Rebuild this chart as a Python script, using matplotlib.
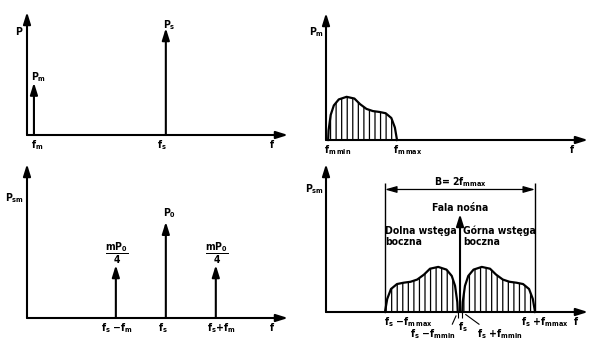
import matplotlib.pyplot as plt
import numpy as np

plt.rcParams['font.family'] = 'DejaVu Sans'
plt.rcParams['font.stretch'] = 'condensed'
plt.rcParams['font.weight'] = 'bold'
plt.rcParams['mathtext.default'] = 'regular'
plt.rcParams['hatch.linewidth'] = 0.9

# --- data (schematic units) ---
# top-left: modulating tone and carrier, separate
f_m, f_s = 0.5, 10.0
P_m, P_s = 0.49, 1.0

# shared band envelope: frequency as fraction of f_mmax, amplitude as fraction of peak
env_f = [0.03, 0.036, 0.066, 0.11, 0.18, 0.29, 0.40, 0.48, 0.57, 0.66, 0.75, 0.84, 0.92, 0.97, 1.0]
env_a = [0.0, 0.22, 0.58, 0.80, 0.94, 1.0, 0.96, 0.83, 0.72, 0.67, 0.65, 0.62, 0.51, 0.29, 0.0]

# top-right: modulating band
band_fmax, band_peak = 1.0, 0.34

# bottom-left: AM with a single tone
am_fs, am_fm = 10.0, 3.6
am_P0, am_side = 1.0, 0.55

# bottom-right: AM with a band
bb_fs, bb_fmax = 10.0, 5.6
bb_P0, bb_peak = 1.0, 0.46

W, H = 600, 355
FS = 7.5
AX = dict(arrowstyle='-|>,head_length=0.7,head_width=0.22', lw=1.5, color='black',
          mutation_scale=10, shrinkA=0, shrinkB=0)

fig = plt.figure(figsize=(W / 100, H / 100), dpi=100)


def panel(x0, y_top, x1, y_base, xmax, ymax):
    ax = fig.add_axes([x0 / W, 1 - y_base / H, (x1 - x0) / W, (y_base - y_top) / H])
    ax.set_xlim(0, xmax)
    ax.set_ylim(0, ymax)
    ax.axis('off')
    ax.annotate('', xy=(1, 0), xytext=(0, 0), xycoords='axes fraction', arrowprops=AX)
    ax.annotate('', xy=(0, 1), xytext=(0, 0), xycoords='axes fraction', arrowprops=AX)
    return ax


def lab(ax, s, xy, dx=0, dy=0, coords='data', **kw):
    kw.setdefault('ha', 'center')
    kw.setdefault('va', 'center')
    kw.setdefault('fontsize', FS)
    return ax.annotate(s, xy, xycoords=coords, xytext=(dx, dy),
                       textcoords='offset pixels', annotation_clip=False, **kw)


def spike(ax, x, h):
    ax.annotate('', xy=(x, h), xytext=(x, 0), arrowprops=AX)


def band(ax, x, y):
    ax.fill_between(x, 0, y, facecolor='none', edgecolor='black', hatch='|||', linewidth=0)
    ax.plot(x, y, color='black', lw=1.6, clip_on=False)


# --- top-left ---
ax1 = panel(27, 12, 288, 135, 18.8, 1.15)
spike(ax1, f_m, P_m)
spike(ax1, f_s, P_s)
lab(ax1, 'P', (0, 0.84), -8, 0, coords='axes fraction')
lab(ax1, 'P$_m$', (f_m, P_m), 5, 5)
lab(ax1, 'P$_s$', (f_s, P_s), 3, 3)
lab(ax1, 'f$_m$', (f_m, 0), 3, -10)
lab(ax1, 'f$_s$', (f_s, 0), -4, -10)
lab(ax1, 'f', (0.94, 0), 0, -10, coords='axes fraction')

# --- top-right ---
ax2 = panel(326, 13, 588, 140, 3.69, 1.0)
bx = np.array(env_f) * band_fmax
by = np.array(env_a) * band_peak
band(ax2, bx, by)
lab(ax2, 'P$_m$', (0, 0.85), -9, 0, coords='axes fraction')
lab(ax2, 'f$_{m\\,min}$', (bx[0], 0), -4, -10, ha='left')
lab(ax2, 'f$_{m\\,max}$', (band_fmax, 0), -4, -10, ha='left')
lab(ax2, 'f', (0.94, 0), 0, -10, coords='axes fraction')

# --- bottom-left ---
ax3 = panel(27, 164, 288, 318, 18.8, 1.6)
spike(ax3, am_fs - am_fm, am_side)
spike(ax3, am_fs, am_P0)
spike(ax3, am_fs + am_fm, am_side)
lab(ax3, 'P$_{sm}$', (0, 0.78), -12, 0, coords='axes fraction')
lab(ax3, 'P$_0$', (am_fs, am_P0), 4, 9)
for x in (am_fs - am_fm, am_fs + am_fm):
    lab(ax3, r'$\dfrac{mP_0}{4}$', (x, am_side), 1, 12)
lab(ax3, 'f$_s$ −f$_m$', (am_fs - am_fm, 0), 1, -10)
lab(ax3, 'f$_s$', (am_fs, 0), -3, -10)
lab(ax3, 'f$_s$+f$_m$', (am_fs + am_fm, 0), 5, -10)
lab(ax3, 'f', (0.94, 0), 0, -10, coords='axes fraction')

# --- bottom-right ---
ax4 = panel(326, 164, 588, 312, 19.55, 1.51)
off = np.array(env_f) * bb_fmax
amp = np.array(env_a) * bb_peak
band(ax4, bb_fs + off, amp)
band(ax4, bb_fs - off, amp)
spike(ax4, bb_fs, bb_P0)
fmin = off[0]
ax4.vlines([bb_fs - fmin, bb_fs + fmin], -0.06, 0, color='black', lw=0.8, clip_on=False)

# bandwidth dimension
yB = 1.25
ax4.vlines([bb_fs - bb_fmax, bb_fs + bb_fmax], 0, 1.32, color='black', lw=1.0, clip_on=False)
ax4.annotate('', xy=(bb_fs + bb_fmax, yB), xytext=(bb_fs - bb_fmax, yB),
             arrowprops=dict(arrowstyle='<|-|>,head_length=0.7,head_width=0.2', lw=0.9,
                             color='black', mutation_scale=10, shrinkA=0, shrinkB=0))
lab(ax4, 'B= 2f$_{mmax}$', (bb_fs, yB), 0, 0, va='bottom')

lab(ax4, 'P$_{sm}$', (0, 0.83), -11, 0, coords='axes fraction')
lab(ax4, 'Fala nośna', (bb_fs, bb_P0), 0, 1, va='bottom')
lab(ax4, 'Dolna wstęga\nboczna', (bb_fs - bb_fmax, 0.77), 0, 0, ha='left', linespacing=1.15)
lab(ax4, 'Górna wstęga\nboczna', (bb_fs, 0.77), 3, 0, ha='left', linespacing=1.15)

lab(ax4, 'f$_s$ −f$_{m\\,max}$', (bb_fs - bb_fmax, 0), -1, -10, ha='left')
lab(ax4, 'f$_s$ +f$_{mmax}$', (bb_fs + bb_fmax, 0), -14, -10, ha='left')
lab(ax4, 'f', (0.955, 0), 0, -10, coords='axes fraction')
lab(ax4, 'f$_s$', (bb_fs, 0), 3, -15)
lab(ax4, 'f$_s$ −f$_{mmin}$', (bb_fs - fmin, 0), -25, -22,
    arrowprops=dict(arrowstyle='-', lw=0.8, color='black', relpos=(0.9, 1.0),
                    shrinkA=0, shrinkB=3))
lab(ax4, 'f$_s$ +f$_{mmin}$', (bb_fs + fmin, 0), 38, -22,
    arrowprops=dict(arrowstyle='-', lw=0.8, color='black', relpos=(0.12, 1.0),
                    shrinkA=0, shrinkB=3))

fig.savefig('out.png', dpi=100)
